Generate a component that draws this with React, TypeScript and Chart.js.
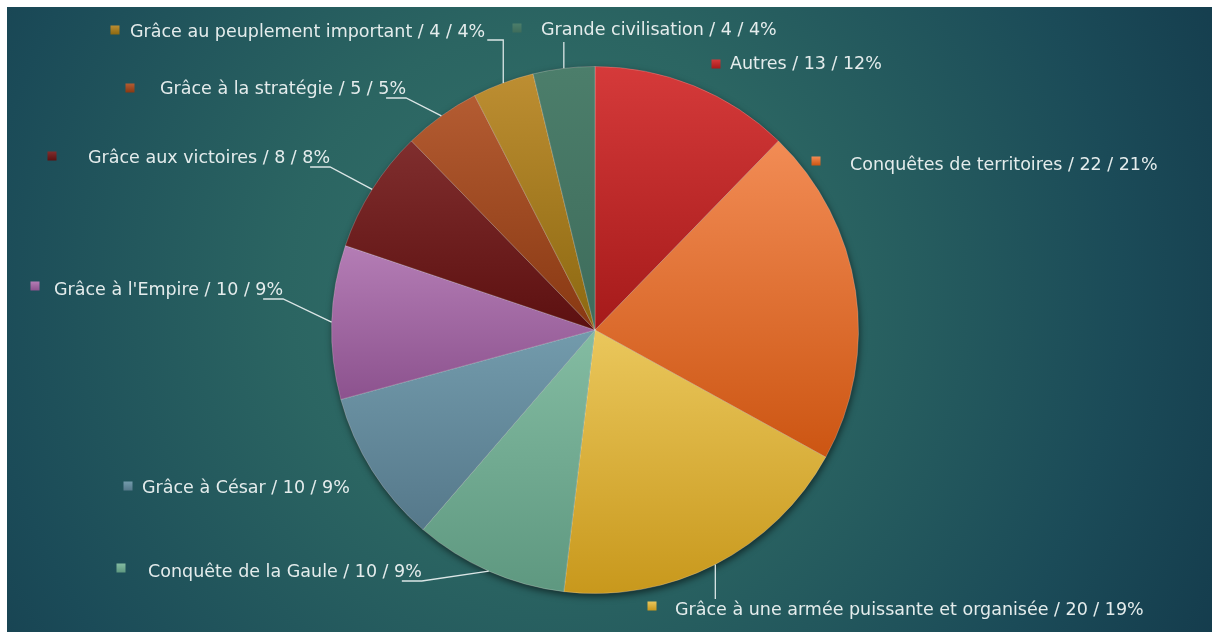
import React, { useEffect, useRef } from "react";
import { Chart, registerables } from "chart.js";

Chart.register(...registerables);

// ---- data ----
const categories = [
  "Autres",
  "Conquêtes de territoires",
  "Grâce à une armée puissante et organisée",
  "Conquête de la Gaule",
  "Grâce à César",
  "Grâce à l'Empire",
  "Grâce aux victoires",
  "Grâce à la stratégie",
  "Grâce au peuplement important",
  "Grande civilisation",
];
const counts = [13, 22, 20, 10, 10, 10, 8, 5, 4, 4];

// ---- style ----
const lightColors = ["#d53a3a", "#f28c55", "#eac75c", "#84bca2", "#739bac", "#b47db5", "#802e2e", "#b45c32", "#bd8e32", "#4c7e6b"];
const darkColors = ["#a51a1a", "#cc5512", "#c8981c", "#5e9880", "#55788a", "#8c528e", "#5c1010", "#883812", "#8c6810", "#3e6c5b"];

// label layout (canvas px): marker centre, text left/middle, leader style
const markerPos: [number, number][] = [
  [709, 57], [809, 154], [645, 599], [114, 561], [121, 479],
  [28, 279], [45, 149], [123, 81], [108, 23], [510, 21],
];
const textPos: [number, number][] = [
  [723, 57], [843, 158], [668, 603], [141, 565], [135, 481],
  [47, 283], [81, 151], [153, 82], [123, 25], [534, 23],
];
const leaderKinds = ["none", "none", "down", "under", "none", "under", "under", "under", "hook", "up"];

const FONT = '17.5px "DejaVu Sans"';

function sliceGradient(chart: any, i: number) {
  const ca = chart.chartArea;
  if (!ca) return lightColors[i];
  const cx = (ca.left + ca.right) / 2;
  const cy = (ca.top + ca.bottom) / 2;
  const r = Math.min(ca.right - ca.left, ca.bottom - ca.top) / 2;
  const total = counts.reduce((a, b) => a + b, 0);
  let cum = 0;
  for (let k = 0; k < i; k++) cum += counts[k];
  const a0 = -Math.PI / 2 + (2 * Math.PI * cum) / total;
  const a1 = -Math.PI / 2 + (2 * Math.PI * (cum + counts[i])) / total;
  const ys = [cy, cy + r * Math.sin(a0), cy + r * Math.sin(a1)];
  const inRange = (a: number) => {
    for (let t = a - 4 * Math.PI; t <= a + 4 * Math.PI; t += 2 * Math.PI) {
      if (t >= a0 && t <= a1) return true;
    }
    return false;
  };
  if (inRange(-Math.PI / 2)) ys.push(cy - r);
  if (inRange(Math.PI / 2)) ys.push(cy + r);
  void cx;
  const y0 = Math.min(...ys);
  const y1 = Math.max(...ys);
  const g = chart.ctx.createLinearGradient(0, y0, 0, y1 + 0.01);
  g.addColorStop(0, lightColors[i]);
  g.addColorStop(1, darkColors[i]);
  return g;
}

const bgPlugin = {
  id: "bgGradient",
  beforeDraw(chart: any) {
    const { ctx, width, height } = chart;
    const g = ctx.createRadialGradient(545, 285, 0, 545, 285, 760);
    g.addColorStop(0, "#35736b");
    g.addColorStop(0.35, "#2b6562");
    g.addColorStop(0.75, "#1b4b58");
    g.addColorStop(1, "#143b4c");
    ctx.save();
    ctx.fillStyle = g;
    ctx.fillRect(0, 0, width, height);
    ctx.restore();
  },
};

const shadowPlugin = {
  id: "pieShadow",
  beforeDatasetsDraw(chart: any) {
    const arc = chart.getDatasetMeta(0).data[0];
    if (!arc) return;
    const { ctx } = chart;
    ctx.save();
    ctx.shadowColor = "rgba(0,0,0,0.55)";
    ctx.shadowBlur = 7;
    ctx.shadowOffsetX = 1;
    ctx.shadowOffsetY = 3;
    ctx.fillStyle = "#333";
    ctx.beginPath();
    ctx.arc(arc.x, arc.y, arc.outerRadius, 0, Math.PI * 2);
    ctx.fill();
    ctx.restore();
  },
};

const labelPlugin = {
  id: "outLabels",
  afterDatasetsDraw(chart: any) {
    const { ctx } = chart;
    const meta = chart.getDatasetMeta(0);
    const total = counts.reduce((a, b) => a + b, 0);
    ctx.save();
    ctx.font = FONT;
    ctx.textBaseline = "middle";
    ctx.textAlign = "left";
    meta.data.forEach((arc: any, i: number) => {
      const [mx, my] = markerPos[i];
      const [tx, ty] = textPos[i];
      // marker
      const mg = ctx.createLinearGradient(0, my - 4.5, 0, my + 4.5);
      mg.addColorStop(0, lightColors[i]);
      mg.addColorStop(1, darkColors[i]);
      ctx.fillStyle = mg;
      ctx.fillRect(mx - 4.5, my - 4.5, 9, 9);
      // text
      const pct = Math.round((counts[i] / total) * 100);
      const label = `${categories[i]} / ${counts[i]} / ${pct}%`;
      ctx.fillStyle = "#e4ecec";
      ctx.fillText(label, tx, ty);
      const tw = ctx.measureText(label).width;
      const tEnd = tx + tw;
      // leader
      const mid = (arc.startAngle + arc.endAngle) / 2;
      const px = arc.x + Math.cos(mid) * arc.outerRadius;
      const py = arc.y + Math.sin(mid) * arc.outerRadius;
      const kind = leaderKinds[i];
      ctx.strokeStyle = "#dbe6e6";
      ctx.lineWidth = 1.3;
      ctx.beginPath();
      if (kind === "under") {
        const uy = ty + 9;
        ctx.moveTo(tEnd - 20, uy);
        ctx.lineTo(tEnd, uy);
        ctx.lineTo(px, py);
      } else if (kind === "up") {
        ctx.moveTo(px, py);
        ctx.lineTo(px, ty + 12);
      } else if (kind === "down") {
        ctx.moveTo(px, py);
        ctx.lineTo(px, ty - 11);
      } else if (kind === "hook") {
        ctx.moveTo(px, py);
        ctx.lineTo(px, ty + 8);
        ctx.lineTo(tEnd + 2, ty + 8);
      }
      if (kind !== "none") ctx.stroke();
    });
    ctx.restore();
  },
};

export default function App() {
  const ref = useRef<HTMLCanvasElement | null>(null);
  useEffect(() => {
    if (!ref.current) return;
    const chart = new Chart(ref.current, {
      type: "pie",
      data: {
        labels: categories,
        datasets: [
          {
            data: counts,
            backgroundColor: (c: any) => sliceGradient(c.chart, c.dataIndex),
            borderColor: "rgba(255,255,255,0.22)",
            borderWidth: 1,
          },
        ],
      },
      options: {
        animation: false,
        responsive: true,
        maintainAspectRatio: false,
        layout: { padding: { top: 59, bottom: 38, left: 0, right: 29 } },
        plugins: { legend: { display: false }, tooltip: { enabled: false } },
      },
      plugins: [bgPlugin, shadowPlugin, labelPlugin],
    });
    return () => chart.destroy();
  }, []);
  return (
    <div style={{ position: "fixed", left: 7, top: 7, width: 1205, height: 625 }}>
      <canvas ref={ref} />
    </div>
  );
}
